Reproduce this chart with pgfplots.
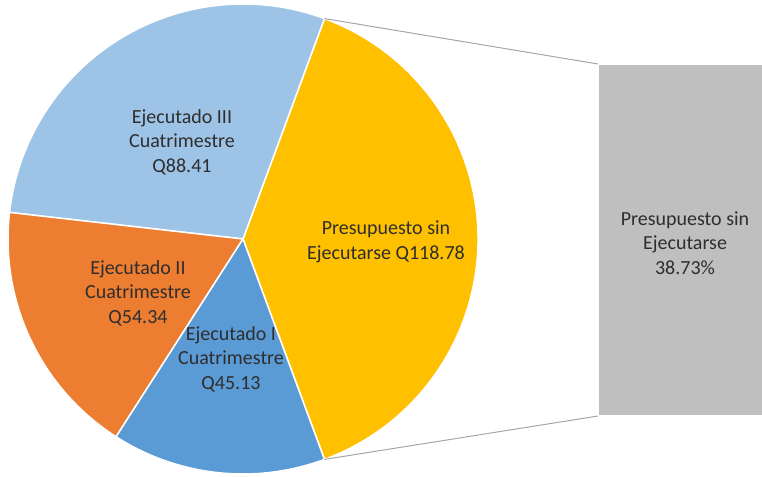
\documentclass[border=0pt]{standalone}
\usepackage{pgfplots}
\pgfplotsset{compat=1.18}
\usepackage{pgfplotstable}
\usepackage{fontspec}
\setmainfont{Carlito}

\definecolor{amarillo}{HTML}{FFC000}
\definecolor{celeste}{HTML}{9DC3E6}
\definecolor{naranja}{HTML}{ED7D31}
\definecolor{azul}{HTML}{5B9BD5}
\definecolor{gris}{HTML}{BFBFBF}
\definecolor{linea}{HTML}{A6A6A6}
\definecolor{texto}{HTML}{2E2E2E}

% montos en quetzales
\pgfplotstableread{
parte valor
SinEjecutar 118.78
EjecutadoI 45.13
EjecutadoII 54.34
EjecutadoIII 88.41
}\datos

\begin{document}
\begin{tikzpicture}[font=\fontsize{20}{24.4}\selectfont]
\pgfplotstablegetelem{0}{valor}\of\datos \let\vSin\pgfplotsretval
\pgfplotstablegetelem{1}{valor}\of\datos \let\vI\pgfplotsretval
\pgfplotstablegetelem{2}{valor}\of\datos \let\vII\pgfplotsretval
\pgfplotstablegetelem{3}{valor}\of\datos \let\vIII\pgfplotsretval
\pgfmathsetmacro\total{\vSin+\vI+\vII+\vIII}
\pgfmathsetmacro\aA{\vSin/\total*180}       % mitad del sector amarillo
\pgfmathsetmacro\aB{\aA+\vIII/\total*360}
\pgfmathsetmacro\aC{\aB+\vII/\total*360}
\pgfmathsetmacro\aD{\aC+\vI/\total*360}
\def\cx{243}\def\cy{237}\def\rr{235}
\begin{axis}[
  hide axis,
  scale only axis,
  x=1pt, y=1pt,
  xmin=0, xmax=762, ymin=0, ymax=476,
]
  % sectores
  \filldraw[amarillo, draw=white, line width=1.5pt, line join=round]
    (axis cs:\cx,\cy) -- ++(-\aA:\rr pt) arc[start angle=-\aA, end angle=\aA, radius=\rr pt] -- cycle;
  \filldraw[celeste, draw=white, line width=1.5pt, line join=round]
    (axis cs:\cx,\cy) -- ++(\aA:\rr pt) arc[start angle=\aA, end angle=\aB, radius=\rr pt] -- cycle;
  \filldraw[naranja, draw=white, line width=1.5pt, line join=round]
    (axis cs:\cx,\cy) -- ++(\aB:\rr pt) arc[start angle=\aB, end angle=\aC, radius=\rr pt] -- cycle;
  \filldraw[azul, draw=white, line width=1.5pt, line join=round]
    (axis cs:\cx,\cy) -- ++(\aC:\rr pt) arc[start angle=\aC, end angle=\aD, radius=\rr pt] -- cycle;
  % barra del desglose
  \addplot[fill=gris, draw=none] coordinates {(599,61) (762,61) (762,411) (599,411)} -- cycle;
  % conectores
  \draw[linea, line width=1pt] (axis cs:\cx,\cy) ++(\aA:\rr pt) -- (axis cs:598,412);
  \draw[linea, line width=1pt] (axis cs:\cx,\cy) ++(-\aA:\rr pt) -- (axis cs:598,60);
  % etiquetas
  \node[texto, align=center] at (axis cs:182,334) {Ejecutado III\\Cuatrimestre\\Q88.41};
  \node[texto, align=center] at (axis cs:138,183) {Ejecutado II\\Cuatrimestre\\Q54.34};
  \node[texto, align=center] at (axis cs:231,117) {Ejecutado I\\Cuatrimestre\\Q45.13};
  \node[texto, align=center] at (axis cs:386,234) {Presupuesto sin\\Ejecutarse Q118.78};
  \node[texto, align=center] at (axis cs:685,233) {Presupuesto sin\\Ejecutarse\\38.73\%};
\end{axis}
\pgfresetboundingbox
\path (current axis.south west) rectangle (current axis.north east);
\end{tikzpicture}
\end{document}
